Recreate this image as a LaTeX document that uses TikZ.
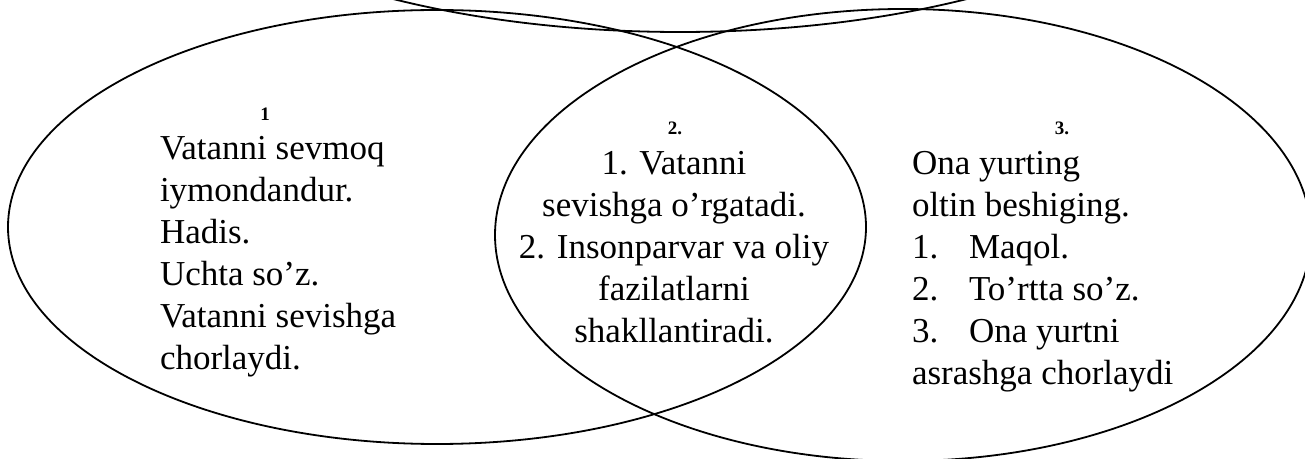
\documentclass[tikz,border=0pt]{standalone}
\usepackage{fontspec}
\setmainfont{Liberation Serif}
\begin{document}
\begin{tikzpicture}[x=0.5pt,y=-0.5pt,
  ring/.style={draw=black,line width=0.9pt},
  txt/.style={inner sep=0pt,outer sep=0pt,font=\fontsize{17.5pt}{21pt}\selectfont},
  lt/.style={txt,anchor=base west},
  ct/.style={txt,anchor=base},
  num/.style={inner sep=0pt,outer sep=0pt,anchor=base,font=\fontsize{9.5pt}{11pt}\selectfont\bfseries}]
\useasboundingbox (0,0) rectangle (1305,459);
\begin{scope}
\clip (0,0) rectangle (1305,459);
\draw[ring] (437,227) ellipse [x radius=214.5pt, y radius=108.5pt];
\draw[ring] (903,235) ellipse [x radius=204pt, y radius=113pt];
\draw[ring] (680,-193) ellipse [x radius=275pt, y radius=112.5pt];
\end{scope}
% block 1
\node[num] (n1) at (265,121) {1};
\node[lt] (a1) at (160,160) {Vatanni sevmoq};
\node[lt] (a2) at (160,202) {iymondandur.};
\node[lt] (a3) at (160,244) {Hadis.};
\node[lt] (a4) at (160,286) {Uchta so’z.};
\node[lt] (a5) at (160,328) {Vatanni sevishga};
\node[lt] (a6) at (160,370) {chorlaydi.};
% block 2
\node[num] (n2) at (675,135) {2.};
\node[ct] (b1) at (674,175) {1. Vatanni};
\node[ct] (b2) at (674,217) {sevishga o’rgatadi.};
\node[ct] (b3) at (674,259) {2. Insonparvar va oliy};
\node[ct] (b4) at (674,301) {fazilatlarni};
\node[ct] (b5) at (674,343) {shakllantiradi.};
% block 3
\node[num] (n3) at (1062,135) {3.};
\node[lt] (c1) at (912,175) {Ona yurting};
\node[lt] (c2) at (912,217) {oltin beshiging.};
\node[lt] (c3) at (912,259) {1.};
\node[lt] (c3t) at (969,259) {Maqol.};
\node[lt] (c4) at (912,301) {2.};
\node[lt] (c4t) at (969,301) {To’rtta so’z.};
\node[lt] (c5) at (912,343) {3.};
\node[lt] (c5t) at (969,343) {Ona yurtni};
\node[lt] (c6) at (912,385) {asrashga chorlaydi};
\end{tikzpicture}
\end{document}
